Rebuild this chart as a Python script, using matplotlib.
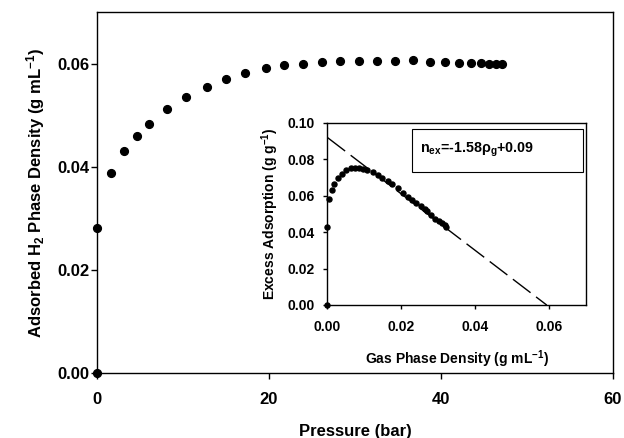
import matplotlib
matplotlib.use("Agg")
import matplotlib.pyplot as plt
from matplotlib.patches import Rectangle
import numpy as np

plt.rcParams['font.family'] = ['Liberation Sans', 'DejaVu Sans']
plt.rcParams['font.weight'] = 'bold'
plt.rcParams['mathtext.fontset'] = 'custom'
plt.rcParams['mathtext.rm'] = 'Liberation Sans:bold'
plt.rcParams['mathtext.bf'] = 'Liberation Sans:bold'
plt.rcParams['mathtext.it'] = 'Liberation Sans:bold'
plt.rcParams['mathtext.default'] = 'bf'

# Main plot data: pressure (bar) vs adsorbed H2 phase density (g/mL)
pressure = [0.0, 0.0, 1.6, 3.1, 4.65, 6.1, 8.1, 10.4, 12.75, 15.0, 17.25, 19.6,
            21.8, 24.0, 26.2, 28.3, 30.5, 32.6, 34.6, 36.7, 38.7, 40.5, 42.1,
            43.5, 44.6, 45.6, 46.4, 47.1]
adsorbed_density = [0.0, 0.0282, 0.0388, 0.0430, 0.0459, 0.0483, 0.0511, 0.0535,
                    0.0555, 0.0571, 0.0582, 0.0591, 0.0597, 0.0600, 0.0603, 0.0605,
                    0.0605, 0.0605, 0.0605, 0.0606, 0.0604, 0.0603, 0.0601, 0.0601,
                    0.0601, 0.0600, 0.0600, 0.0600]

# Inset data: gas phase density (g/mL) vs excess adsorption (g/g)
gas_density = [0.0, 0.0, 0.0004, 0.0011, 0.0019, 0.0028, 0.0039, 0.0051, 0.0063,
               0.0075, 0.0086, 0.0097, 0.0108, 0.0122, 0.0136, 0.0149, 0.0163,
               0.0176, 0.0190, 0.0205, 0.0218, 0.0229, 0.0240, 0.0252, 0.0263,
               0.0270, 0.0281, 0.0292, 0.0301, 0.0309, 0.0317, 0.0322]
excess_ads = [0.0, 0.0428, 0.0580, 0.0630, 0.0665, 0.0695, 0.0722, 0.0740, 0.0750,
              0.0754, 0.0754, 0.0749, 0.0740, 0.0730, 0.0714, 0.0698, 0.0680,
              0.0663, 0.0641, 0.0613, 0.0592, 0.0577, 0.0563, 0.0546, 0.0527,
              0.0516, 0.0493, 0.0475, 0.0460, 0.0450, 0.0440, 0.0430]

# Fitted line (as drawn)
fit_slope = -1.55
fit_intercept = 0.092
fit_x = [0.0, 0.0594]

fig = plt.figure(figsize=(6.24, 4.38), dpi=100)
ax = fig.add_axes([0.1554, 0.1484, 0.8270, 0.8242])
ax.plot(pressure, adsorbed_density, 'o', color='black', markersize=5.6, clip_on=False, zorder=5)
ax.set_xlim(0, 60)
ax.set_ylim(0, 0.07)
ax.set_xticks([0, 20, 40, 60])
ax.set_yticks([0.00, 0.02, 0.04, 0.06])
ax.set_yticklabels(['0.00', '0.02', '0.04', '0.06'])
ax.tick_params(direction='out', length=4, width=1, labelsize=12)
ax.tick_params(axis='x', pad=10)
ax.tick_params(axis='y', pad=1.5)
ax.tick_params(top=False, right=False)
for s in ax.spines.values():
    s.set_linewidth(1.0)
ax.set_xlabel('Pressure (bar)', fontsize=12, fontweight='bold', labelpad=12)
ax.set_ylabel('Adsorbed H$_2$ Phase Density (g mL$^{-1}$)', fontsize=12, fontweight='bold', labelpad=7)

ins = fig.add_axes([0.5248, 0.3037, 0.4142, 0.4155])
fx = np.array(fit_x)
ins.plot(fx, fit_slope * fx + fit_intercept, color='black', lw=1.0, dashes=(16, 5), zorder=2)
ins.plot(gas_density, excess_ads, 'o', color='black', markersize=3.6, clip_on=False, zorder=5)
ins.set_xlim(0, 0.07)
ins.set_ylim(0, 0.10)
ins.set_xticks([0.00, 0.02, 0.04, 0.06])
ins.set_xticklabels(['0.00', '0.02', '0.04', '0.06'])
ins.set_yticks([0.00, 0.02, 0.04, 0.06, 0.08, 0.10])
ins.set_yticklabels(['0.00', '0.02', '0.04', '0.06', '0.08', '0.10'])
ins.tick_params(direction='out', length=3, width=1, labelsize=10)
ins.tick_params(axis='x', pad=8)
ins.tick_params(axis='y', pad=6)
for s in ins.spines.values():
    s.set_linewidth(1.0)
ins.set_xlabel('Gas Phase Density (g mL$^{-1}$)', fontsize=10, fontweight='bold', labelpad=10)
ins.set_ylabel('Excess Adsorption (g g$^{-1}$)', fontsize=10, fontweight='bold', labelpad=5)
ins.add_patch(Rectangle((0.327, 0.731), 0.661, 0.236, transform=ins.transAxes,
                        facecolor='white', edgecolor='black', lw=0.8, zorder=6))
ins.text(0.357, 0.852, 'n$_{ex}$=-1.58ρ$_g$+0.09', transform=ins.transAxes, fontsize=10.3,
         fontweight='bold', ha='left', va='center', zorder=7)

fig.savefig('out.png', dpi=100)
